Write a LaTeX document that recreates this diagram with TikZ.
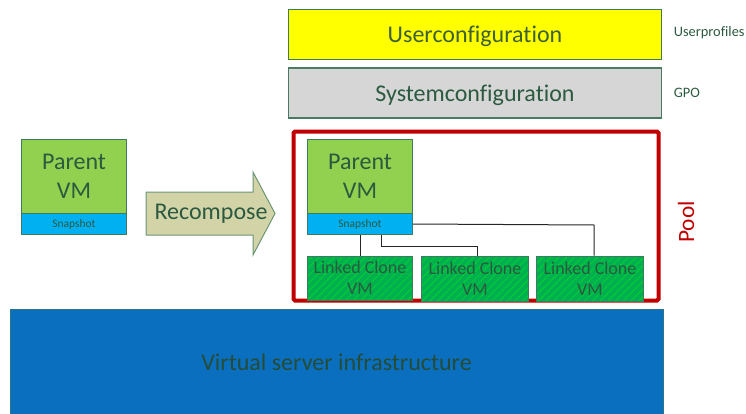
\documentclass[tikz,border=0pt]{standalone}
\usepackage{fontspec}
\setmainfont{Carlito}[Ligatures=NoCommon]
\usetikzlibrary{patterns.meta}
\newlength{\px}\setlength{\px}{0.75pt}
\definecolor{txt}{HTML}{2C5A40}
\definecolor{edge}{HTML}{3F7A5E}
\definecolor{parentg}{HTML}{92D050}
\definecolor{snapb}{HTML}{00B0F0}
\definecolor{cloneg}{HTML}{00B050}
\definecolor{poolr}{HTML}{C00000}
\definecolor{infra}{HTML}{0B6FC0}
\definecolor{recomp}{HTML}{D2D4A8}
\definecolor{userY}{rgb}{1,1,0}
\tikzset{
  x=0.75pt,y=-0.75pt,
  box/.style={draw=edge,line width=1\px,inner sep=0pt,text=txt,align=center},
  bigtxt/.style={font=\fontsize{18}{22}\selectfont},
  parentbox/.style={box,bigtxt,fill=parentg,minimum width=105\px,minimum height=74\px},
  snapbox/.style={box,fill=snapb,minimum width=105\px,minimum height=21\px,font=\fontsize{8.6}{10}\selectfont},
  clonebox/.style={box,preaction={fill=cloneg},pattern={Lines[angle=45,distance=4.1pt,line width=0.6pt]},pattern color=green!45!cloneg,
     minimum height=45\px,font=\fontsize{13.5}{16}\selectfont},
  confbox/.style={box,bigtxt,minimum width=373.5\px,minimum height=50\px,text height=14pt,text depth=2pt},
  sidelabel/.style={text=txt,inner sep=0pt,font=\fontsize{10.8}{13}\selectfont,anchor=west},
  link/.style={draw=black!85,line width=1\px},
}
\begin{document}
\begin{tikzpicture}
\useasboundingbox (0,0) rectangle (746,414);
% configuration layers
\node[confbox,fill=userY,text=txt!80!olive] (user) at (475,34) {Userconfiguration};
\node[confbox,fill=black!16,draw=edge!85!gray,line width=1.4\px] (sys) at (475,93) {Systemconfiguration};
\node[sidelabel] (lu) at (673.5,33) {Userprofiles};
\node[sidelabel] (lg) at (673.5,93) {GPO};
% pool frame
\node[draw=poolr,line width=4\px,rounded corners=1.5\px,minimum width=365\px,minimum height=169\px,inner sep=0pt] (pool) at (476,216) {};
\node[rotate=90,text=poolr,inner sep=0pt,font=\fontsize{17.5}{20}\selectfont] (pl) at (686,222) {Pool};
% left parent
\node[parentbox] (lp) at (74,176.5) {Parent\\VM};
\node[snapbox] (ls) at (74,224) {Snapshot};
% arrow
\draw[draw=edge!70!recomp,fill=recomp,line width=1\px] (146,192) -- (253,192) -- (253,172) -- (275,213.5) -- (253,255) -- (253,235) -- (146,235) -- cycle;
\node[inner sep=0pt,text=txt,font=\fontsize{18}{22}\selectfont] (rc) at (211,213.5) {Recompose};
% inner parent
\node[parentbox] (rp) at (360,176.5) {Parent\\VM};
\node[snapbox] (rs) at (360,224) {Snapshot};
% connectors
\coordinate (k2) at (381.5,235);
\coordinate (k2b) at (477,246);
\coordinate (k3) at (594,225);
% linked clones
\node[clonebox,minimum width=105\px,minimum height=44\px] (c1) at (360,278) {Linked Clone\\VM};
\node[clonebox,minimum width=107\px] (c2) at (475,278.5) {Linked Clone\\VM};
\node[clonebox,minimum width=107\px] (c3) at (590,278.5) {Linked Clone\\VM};
\draw[link] (rs.south) -- (c1.north);
\draw[link] (k2) |- (k2b) -- (k2b |- c2.north);
\draw[link] (rs.east) -- (k3) -- (k3 |- c3.north);
% infrastructure
\node[box,fill=infra,draw=edge!60!infra,minimum width=653\px,minimum height=105\px] (vsi) at (336.5,361.5) {};
\node[text=txt!85!black,inner sep=0pt,font=\fontsize{18}{22}\selectfont] (vt) at (336.5,362) {Virtual server infrastructure};
\end{tikzpicture}
\end{document}
